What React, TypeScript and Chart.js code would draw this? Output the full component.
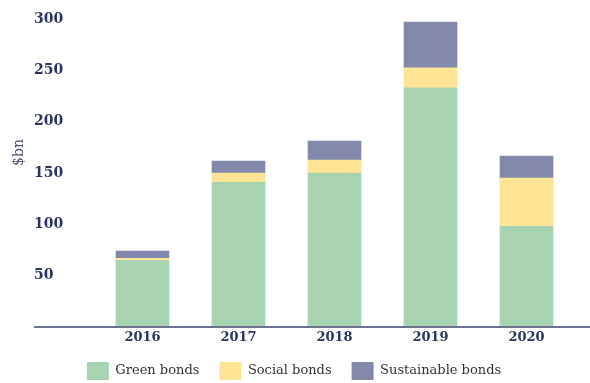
import React, { useEffect, useRef } from "react";
import { Chart, registerables } from "chart.js";

Chart.register(...registerables);

const years = ["2016", "2017", "2018", "2019", "2020"];
const greenBonds = [65, 141, 150, 233, 98];
const socialBonds = [2, 9, 12.5, 19.5, 47];
const sustainableBonds = [7, 11.5, 18.5, 44.5, 21.5];
const seriesNames = ["Green bonds", "Social bonds", "Sustainable bonds"];
const yTicks = [50, 100, 150, 200, 250, 300];
const yTitle = "$bn";

const NAVY = "#2b3560";

export default function App() {
  const ref = useRef<HTMLCanvasElement | null>(null);

  useEffect(() => {
    document.body.style.margin = "0";
    document.documentElement.style.overflow = "hidden";
    document.body.style.overflow = "hidden";
    const canvas = ref.current;
    if (!canvas) return;

    const extras = {
      id: "extras",
      afterDraw(chart: any) {
        const ctx = chart.ctx;
        const y0 = chart.scales.y.getPixelForValue(0);
        const left = chart.chartArea.left - 60.5;
        ctx.save();
        ctx.strokeStyle = "#6b7391";
        ctx.lineWidth = 2;
        ctx.beginPath();
        ctx.moveTo(left, y0);
        ctx.lineTo(chart.width, y0);
        ctx.stroke();
        ctx.translate(left - 15, chart.scales.y.getPixelForValue(170));
        ctx.rotate(-Math.PI / 2);
        ctx.fillStyle = "#4a5278";
        ctx.font = "14px 'DejaVu Serif'";
        ctx.textAlign = "center";
        ctx.textBaseline = "middle";
        ctx.fillText(yTitle, 0, 0);
        ctx.restore();
      },
    };

    const chart = new Chart(canvas, {
      type: "bar",
      data: {
        labels: years,
        datasets: [
          { label: seriesNames[0], data: greenBonds, backgroundColor: "#a8d3b0" },
          { label: seriesNames[1], data: socialBonds, backgroundColor: "#ffe496" },
          { label: seriesNames[2], data: sustainableBonds, backgroundColor: "#8289ab" },
        ],
      },
      options: {
        responsive: false,
        animation: false,
        layout: { padding: { left: 13.5, right: 15.5, top: 19, bottom: 0 } },
        datasets: { bar: { barThickness: 53 } },
        plugins: {
          tooltip: { enabled: false },
          legend: {
            position: "bottom",
            labels: {
              boxWidth: 22,
              boxHeight: 18,
              color: "#333333",
              padding: 20,
              font: { family: "'DejaVu Serif'", size: 13 },
            },
          },
        },
        scales: {
          x: {
            stacked: true,
            grid: { display: false, drawTicks: false },
            border: { display: false },
            afterFit: (s: any) => { s.height = 15; },
            ticks: { color: NAVY, font: { family: "'DejaVu Serif'", size: 13, weight: "bold" }, padding: 3 },
          },
          y: {
            stacked: true,
            min: 0,
            max: 300,
            grid: { display: false, drawTicks: false },
            border: { display: false },
            afterFit: (s: any) => { s.width = 81; },
            afterBuildTicks: (s: any) => { s.ticks = yTicks.map((v) => ({ value: v })); },
            ticks: {
              color: NAVY,
              mirror: true,
              crossAlign: "near",
              padding: -60.5,
              font: { family: "'DejaVu Serif'", size: 14, weight: "bold" },
            },
          },
        },
      },
      plugins: [extras],
    });
    return () => chart.destroy();
  }, []);

  return <canvas ref={ref} width={590} height={390} style={{ display: "block" }} />;
}
